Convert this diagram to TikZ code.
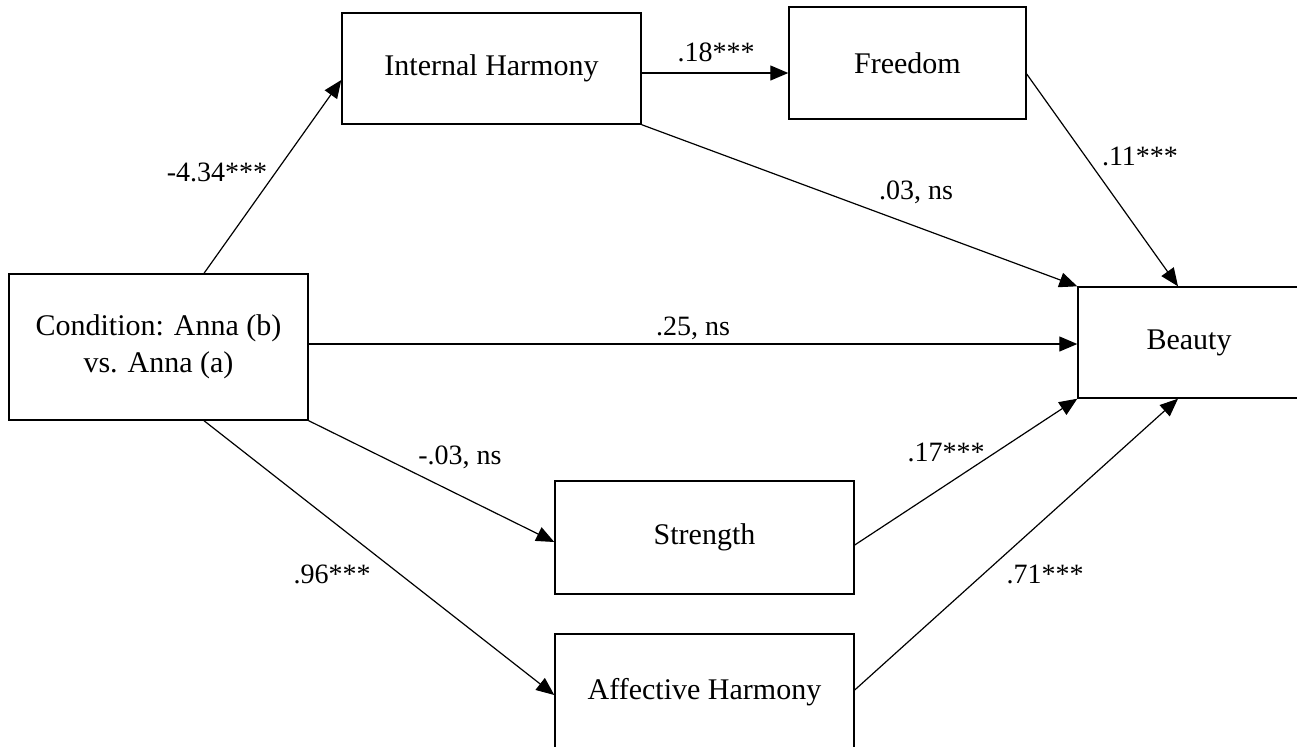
\documentclass[tikz,border=0pt]{standalone}
\usepackage{fontspec}
\setmainfont{Liberation Serif}
\usetikzlibrary{arrows.meta}
\begin{document}
\begin{tikzpicture}[x=0.5pt, y=-0.5pt]
        \tikzstyle{box}=[rectangle, draw, line width=0.7pt, minimum width=149.5pt, font=\fontsize{15}{18.5}\selectfont, align=center]
        \tikzstyle{arr}=[-{Triangle[length=9pt, width=7.5pt]}, line width=0.6pt]
        \tikzstyle{lbl}=[font=\fontsize{14}{16}\selectfont, inner sep=0pt]

        \useasboundingbox (0,0) rectangle (1297,746);

        \node[box, minimum height=73pt] (cond) at (158.5,347) {Condition: Anna (b)\\vs. Anna (a)};
        \node[box, minimum height=55.5pt] (ih) at (491.5,68.5) {Internal Harmony};
        \node[box, minimum width=118.5pt, minimum height=56pt] (fr) at (907.5,63) {Freedom};
        \node[box, minimum width=111pt, minimum height=55.5pt] (beauty) at (1189,342.5) {Beauty};
        \node[box, minimum height=56.5pt] (str) at (704.5,537.5) {Strength};
        \node[box, minimum height=58pt] (ah) at (704.5,692) {Affective Harmony};

        \draw[arr] ([xshift=22.75pt]cond.north) -- ([yshift=-5.75pt]ih.west);
        \draw[arr] ([yshift=-2.25pt]ih.east) -- ([yshift=-5pt]fr.west);
        \draw[arr] (ih.south east) -- (beauty.north west);
        \draw[arr] ([yshift=-5.5pt]fr.east) -- ([xshift=-5.5pt]beauty.north);
        \draw[arr] ([yshift=1.5pt]cond.east) -- ([yshift=1.5pt]cond.east -| beauty.west);
        \draw[arr] (cond.south east) -- ([yshift=-2.25pt]str.west);
        \draw[arr] ([xshift=22.75pt]cond.south) -- ([yshift=-1.5pt]ah.west);
        \draw[arr] ([yshift=-3.75pt]str.east) -- (beauty.south west);
        \draw[arr] ([yshift=1pt]ah.east) -- ([xshift=-5.5pt]beauty.south);

        \node[lbl] (l1) at (217,172) {-4.34***};
        \node[lbl] (l2) at (716,52) {.18***};
        \node[lbl] (l3) at (916,192) {.03, ns};
        \node[lbl] (l4) at (1140,156) {.11***};
        \node[lbl] (l5) at (693,328) {.25, ns};
        \node[lbl] (l6) at (460,457) {-.03, ns};
        \node[lbl] (l7) at (332,574) {.96***};
        \node[lbl] (l8) at (946,452) {.17***};
        \node[lbl] (l9) at (1045,574) {.71***};
    \end{tikzpicture}
\end{document}
